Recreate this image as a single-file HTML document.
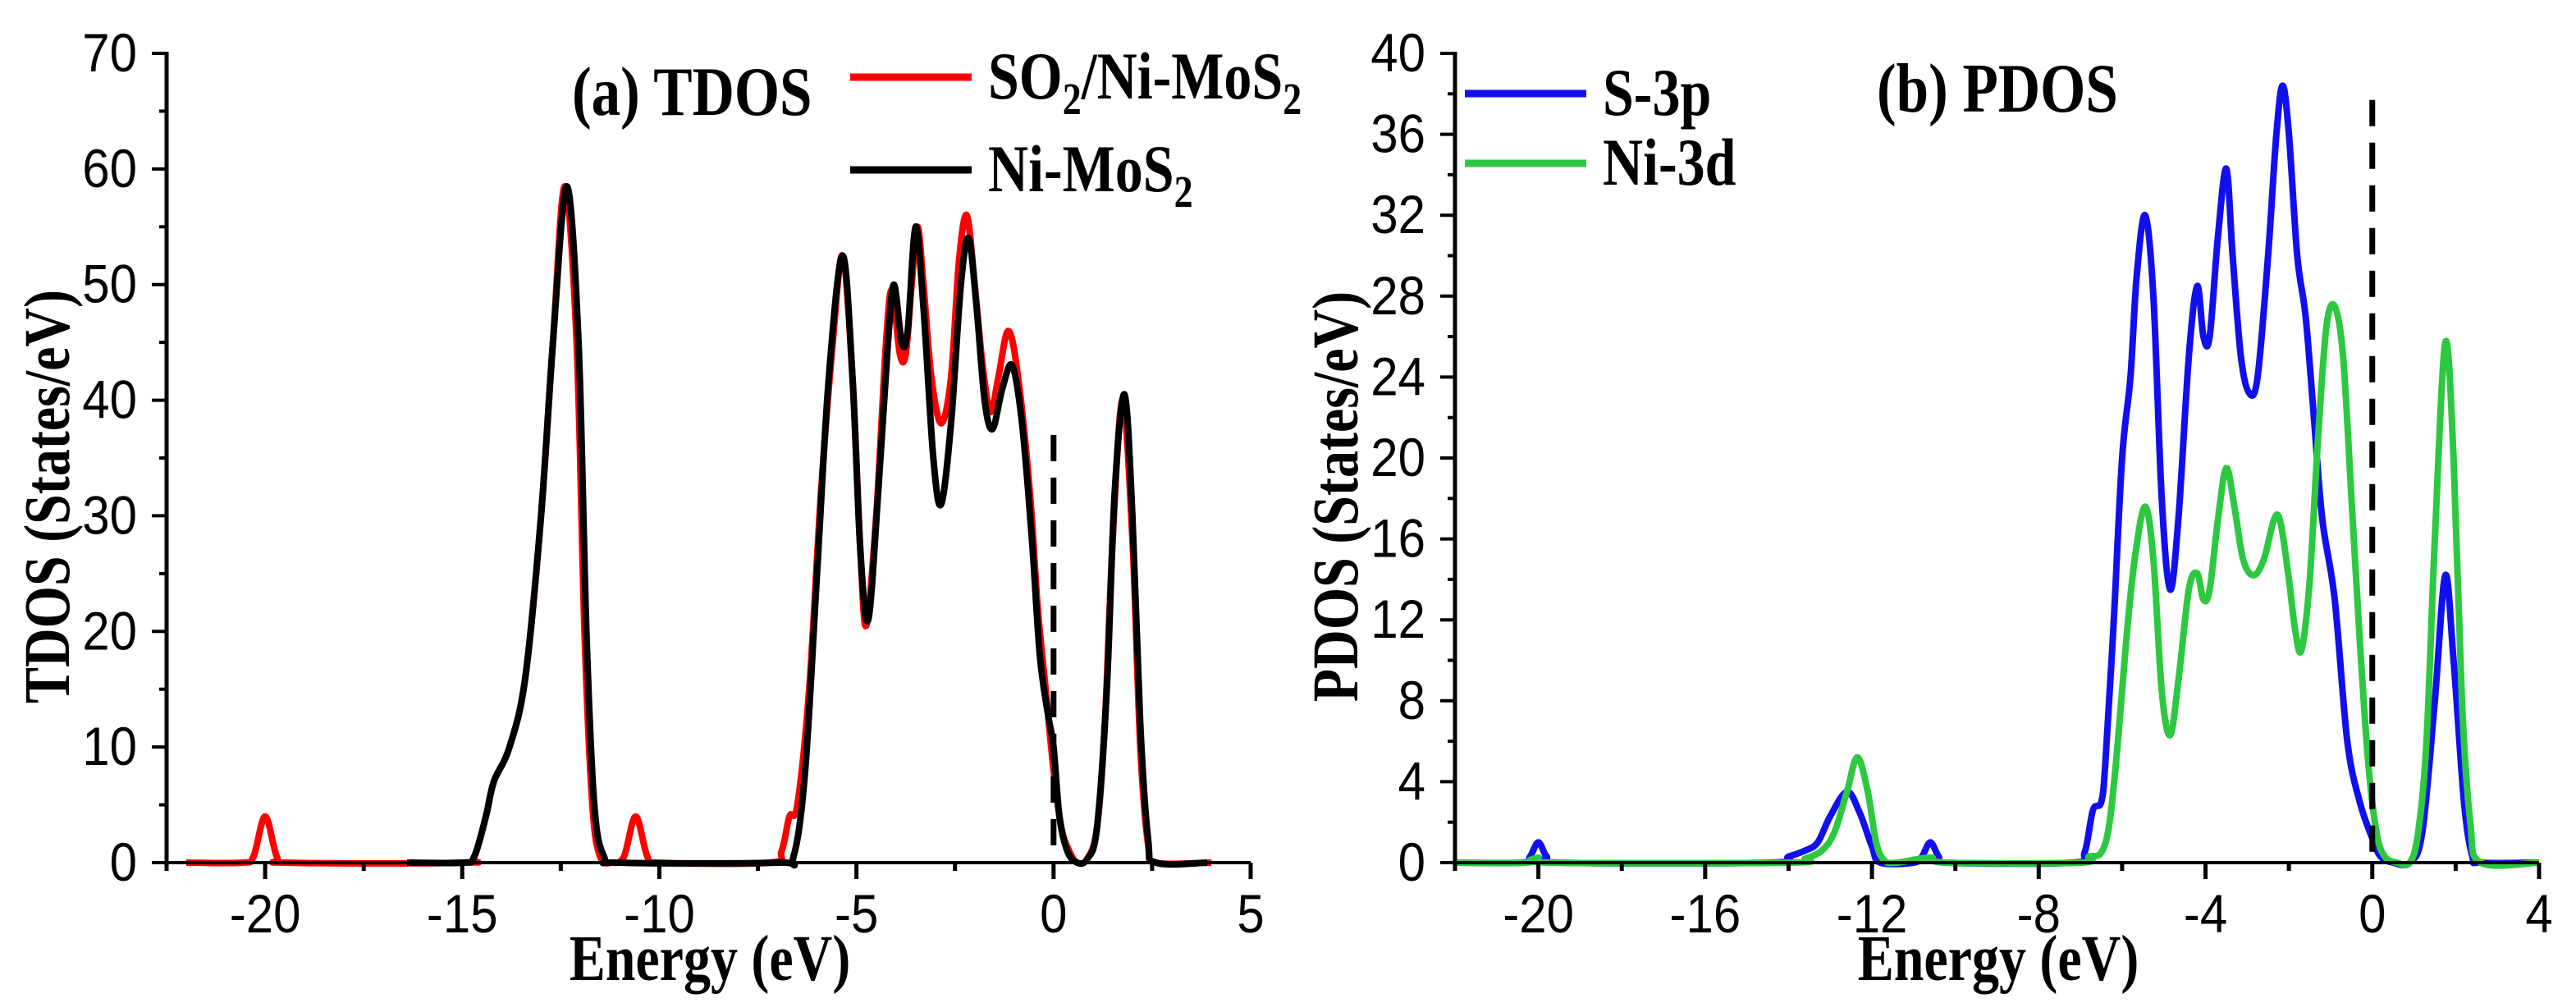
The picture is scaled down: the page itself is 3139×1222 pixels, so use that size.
<!DOCTYPE html>
<html><head><meta charset="utf-8"><style>
html,body{margin:0;padding:0;background:#fff;}
svg{display:block;}
.tick{font-family:"Liberation Sans",Arial,sans-serif;font-size:60px;fill:#000;}
.ttl{font-family:"Liberation Serif","Times New Roman",serif;font-weight:bold;fill:#000;}
</style></head><body>
<svg id="chart" width="3139" height="1222" viewBox="0 0 3139 1222" xmlns="http://www.w3.org/2000/svg">
<g id="panelA"></g>
<g id="panelB"></g>
</svg>
<script>
// ---- Data ----
const tdosSO2E = [-22,-20.6,-20.3,-20,-19.7,-19.4,-15,-14.7,-14.4,-14.2,-13.8,-13.4,-13,-12.7,-12.4,-12.1,-11.9,-11.7,-11.5,-11.2,-10.9,-10.6,-10.3,-10,-7.2,-6.9,-6.7,-6.5,-6.2,-5.9,-5.6,-5.35,-5.1,-4.9,-4.75,-4.5,-4.25,-4.1,-3.9,-3.75,-3.6,-3.45,-3.3,-3.1,-2.85,-2.6,-2.4,-2.2,-2,-1.8,-1.6,-1.4,-1.15,-0.9,-0.6,-0.4,-0.2,0,0.2,0.4,0.6,0.85,1.1,1.3,1.5,1.75,2.0,2.2,2.4,2.6,4];
const tdosSO2V = [0,0,0.5,4,0.5,0,0,0.5,4,7,10,16,30,45,58.5,45,20,5,0.5,0,0.5,4,0.5,0,0,1,4,5,15,32,45,52.5,42,27,20.5,30,45,49.5,44,44,50,55,50,42,38,42,52,56,50,43,39,42,46,42,32,22,15,8,3,1,0,0.3,3,12,28,40,28,10,1.5,0,0];
const tdosNiE = [-16.4,-15,-14.7,-14.4,-14.2,-13.8,-13.4,-13,-12.7,-12.35,-12.05,-11.85,-11.65,-11.4,-11,-7,-6.6,-6.3,-6,-5.7,-5.35,-5.1,-4.9,-4.7,-4.45,-4.2,-4.05,-3.85,-3.7,-3.5,-3.3,-3.05,-2.85,-2.6,-2.35,-2.15,-1.95,-1.75,-1.55,-1.3,-1.05,-0.8,-0.55,-0.35,-0.15,0,0.15,0.35,0.6,0.85,1.1,1.35,1.55,1.8,2.0,2.2,2.4,2.6,3.9];
const tdosNiV = [0,0,0.5,4,7,10,16,30,45,58.5,45,20,5,0.5,0,0,0.5,8,25,42,52.5,42,27,21,32,45,50,45,46,55,48,35,31,38,50,54,48,40,37.5,41,43,38,28,18,13,10,4,1,0,0.3,3,15,32,40.5,30,12,2,0,0];
const s3pE = [-22,-20.4,-20.2,-20,-19.8,-19.5,-14.5,-14,-13.6,-13.3,-13,-12.6,-12.3,-12.0,-11.8,-11,-10.8,-10.6,-10.4,-10.2,-7.2,-6.9,-6.7,-6.5,-6.4,-6.2,-6.0,-5.8,-5.65,-5.45,-5.25,-5.05,-4.85,-4.65,-4.4,-4.2,-4.05,-3.9,-3.7,-3.5,-3.35,-3.15,-2.95,-2.75,-2.5,-2.3,-2.15,-2.0,-1.8,-1.6,-1.4,-1.2,-0.9,-0.6,-0.3,0,0.2,0.5,0.9,1.2,1.5,1.75,1.95,2.2,2.4,2.6,4];
const s3pV = [0,0,0.3,1,0.3,0,0,0.3,0.6,1,2.3,3.5,2.5,0.8,0,0,0.3,1,0.3,0,0,0.5,2.6,3,5,12,20,24,29,32,28,18,13.5,17,25,28.5,26,26,31,34.3,30,25,23.2,24,30,36,38.4,36,30,27,22,17,13,6,3,1.2,0.3,0,0,1.5,8,14.2,10,3,0.3,0,0];
const ni3dE = [-22,-20.3,-20,-19.7,-14,-13.6,-13.2,-12.9,-12.6,-12.35,-12.1,-11.9,-11.7,-11.4,-10.6,-10.2,-7,-6.8,-6.5,-6.3,-6.1,-5.9,-5.7,-5.45,-5.25,-5.05,-4.85,-4.65,-4.4,-4.2,-4.05,-3.9,-3.7,-3.5,-3.3,-3.1,-2.85,-2.6,-2.35,-2.2,-2.0,-1.85,-1.7,-1.5,-1.3,-1.1,-0.9,-0.7,-0.5,-0.3,-0.1,0.1,0.3,0.6,0.9,1.1,1.3,1.5,1.75,1.95,2.15,2.35,2.6,4];
const ni3dV = [0,0,0.25,0,0,0.2,0.6,1.5,3.5,5.2,3.5,1,0.1,0,0.25,0,0,0.3,0.5,2,6,11,15,17.6,15,8.5,6.3,9,13.5,14.3,13,13.5,17,19.5,17.5,15,14.2,15,17,16.8,14,11.5,10.5,14,21,26.5,27.5,25,18,11,5,1.5,0.3,0,0,1.5,6,16,25.7,20,8,2,0,0];
const tdosYTicks = [0,10,20,30,40,50,60,70];
const tdosXTicks = [-20,-15,-10,-5,0,5];
const pdosYTicks = [0,4,8,12,16,20,24,28,32,36,40];
const pdosXTicks = [-20,-16,-12,-8,-4,0,4];

const NS = "http://www.w3.org/2000/svg";
function mk(parent, tag, attrs, text){
  const e = document.createElementNS(NS, tag);
  for (const k in attrs) e.setAttribute(k, attrs[k]);
  if (text !== undefined) e.textContent = text;
  parent.appendChild(e);
  return e;
}
function smooth(pts){
  let d = "M" + pts[0][0].toFixed(1) + "," + pts[0][1].toFixed(1);
  for (let i=0;i<pts.length-1;i++){
    const p0 = pts[Math.max(0,i-1)], p1 = pts[i], p2 = pts[i+1], p3 = pts[Math.min(pts.length-1,i+2)];
    const c1 = [p1[0]+(p2[0]-p0[0])/6, p1[1]+(p2[1]-p0[1])/6];
    const c2 = [p2[0]-(p3[0]-p1[0])/6, p2[1]-(p3[1]-p1[1])/6];
    d += "C"+c1[0].toFixed(1)+","+c1[1].toFixed(1)+" "+c2[0].toFixed(1)+","+c2[1].toFixed(1)+" "+p2[0].toFixed(1)+","+p2[1].toFixed(1);
  }
  return d;
}

function panel(g, cfg){
  const L=cfg.left, R=cfg.right, T=65, B=1051;
  const xs = v => L + (v-cfg.xmin)/(cfg.xmax-cfg.xmin)*(R-L);
  const ys = v => B - (v-cfg.ymin)/(cfg.ymax-cfg.ymin)*(B-T);
  cfg.series.forEach(s=>{
    const pts = s.e.map((e,i)=>[xs(e), ys(s.v[i])]);
    const p = mk(g,"path",{d:smooth(pts),fill:"none",stroke:s.color,"stroke-width":8,"stroke-linejoin":"round"});
    
    
  });
  const fl = mk(g,"line",{x1:xs(0),x2:xs(0),y1:ys(cfg.fermiTop),y2:B,stroke:"#000","stroke-width":7,"stroke-dasharray":"32,20"});
  
  
  const ax = mk(g,"g",{});
  
  
  mk(ax,"line",{x1:L,x2:L,y1:T-2,y2:B+10,stroke:"#000","stroke-width":5});
  mk(ax,"line",{x1:L-3,x2:R,y1:B,y2:B,stroke:"#000","stroke-width":4});
  const yl = mk(g,"g",{});
  
  
  cfg.yTicks.forEach((t,i)=>{
    mk(ax,"line",{x1:L-18,x2:L,y1:ys(t),y2:ys(t),stroke:"#000","stroke-width":4});
    if (i<cfg.yTicks.length-1){
      const m=(t+cfg.yTicks[i+1])/2;
      mk(ax,"line",{x1:L-9,x2:L,y1:ys(m),y2:ys(m),stroke:"#000","stroke-width":4});
    }
    mk(yl,"text",{x:0,y:0,"text-anchor":"end",class:"tick",transform:"translate("+(L-36)+","+(ys(t)+22)+") scale(1,1.1)"},String(t));
  });
  const xl = mk(g,"g",{});
  
  
  cfg.xTicks.forEach((t,i)=>{
    mk(ax,"line",{x1:xs(t),x2:xs(t),y1:B,y2:B+20,stroke:"#000","stroke-width":5});
    if (i<cfg.xTicks.length-1){
      const m=(t+cfg.xTicks[i+1])/2;
      mk(ax,"line",{x1:xs(m),x2:xs(m),y1:B,y2:B+10,stroke:"#000","stroke-width":5});
    }
    mk(xl,"text",{x:0,y:0,"text-anchor":"middle",class:"tick",transform:"translate("+xs(t)+",1136) scale(1,1.1)"},String(t));
  });
  if (cfg.xmin < cfg.xTicks[0]-(cfg.xTicks[1]-cfg.xTicks[0])/2){
    const m = cfg.xTicks[0]-(cfg.xTicks[1]-cfg.xTicks[0])/2;
    mk(ax,"line",{x1:xs(m),x2:xs(m),y1:B,y2:B+10,stroke:"#000","stroke-width":5});
  }
  const xt = mk(g,"text",{x:0,y:0,"text-anchor":"middle",class:"ttl","font-size":66,transform:"translate("+cfg.xTitleX+",1194) scale(1,1.2)"},"Energy (eV)");
  
  
  const yt = mk(g,"text",{x:0,y:0,"text-anchor":"middle",class:"ttl","font-size":66,transform:"translate("+cfg.yTitleX+",605) rotate(-90) scale(1,1.2)"},cfg.yTitle);
  
  
  const pt = mk(g,"text",{x:0,y:0,class:"ttl","font-size":71,transform:"translate("+cfg.titleX+","+cfg.titleY+") scale(1,1.2)"},cfg.title);
  
  
  cfg.series.forEach((s,i)=>{
    const le = mk(g,"g",{});
    
    
    const ly = cfg.legY[i];
    mk(le,"line",{x1:cfg.legX,x2:cfg.legX+148,y1:ly,y2:ly,stroke:s.color,"stroke-width":9});
    const t = mk(le,"text",{x:0,y:0,class:"ttl","font-size":68,transform:"translate("+(cfg.legX+168)+","+(ly+26)+") scale(1,1.2)"});
    s.label.forEach(part=>{
      mk(t,"tspan",part.sub?{"font-size":46,dy:16}:{dy:part.up?-16:0},part.t);
    });
  });
}

panel(document.getElementById("panelA"),{
  left:203,right:1524,xmin:-22.5,xmax:5,ymin:0,ymax:70,
  yTicks:tdosYTicks,xTicks:tdosXTicks,fermiTop:37,
  xTitleX:865,yTitleX:84,yTitle:"TDOS (States/eV)",
  title:"(a) TDOS",titleX:697,titleY:140,legX:1036,legY:[94,207],
  series:[
    {name:"so2-ni-mos2-line",e:tdosSO2E,v:tdosSO2V,color:"#ff0000",label:[{t:"SO"},{t:"2",sub:true},{t:"/Ni-MoS",up:true},{t:"2",sub:true}]},
    {name:"ni-mos2-line",e:tdosNiE,v:tdosNiV,color:"#000000",label:[{t:"Ni-MoS"},{t:"2",sub:true}]}
  ]
});
panel(document.getElementById("panelB"),{
  left:1773,right:3094,xmin:-22,xmax:4,ymin:0,ymax:40,
  yTicks:pdosYTicks,xTicks:pdosXTicks,fermiTop:37.7,
  xTitleX:2435,yTitleX:1654,yTitle:"PDOS (States/eV)",
  title:"(b) PDOS",titleX:2287,titleY:136,legX:1785,legY:[114,199],
  series:[
    {name:"s-3p-line",e:s3pE,v:s3pV,color:"#1010ee",label:[{t:"S-3p"}]},
    {name:"ni-3d-line",e:ni3dE,v:ni3dV,color:"#2ec840",label:[{t:"Ni-3d"}]}
  ]
});
</script>
</body></html>
